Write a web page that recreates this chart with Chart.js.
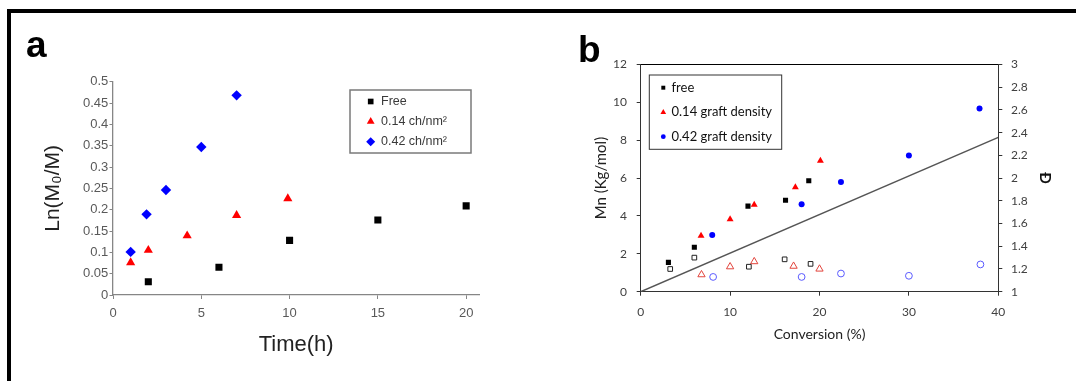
<!DOCTYPE html>
<html>
<head>
<meta charset="utf-8">
<script src="https://cdn.jsdelivr.net/npm/chart.js@4.4.1/dist/chart.umd.min.js"></script>
<style>
  body { margin: 0; width: 1076px; height: 381px; background: #fff; position: relative; overflow: hidden; }
  #frame { position: absolute; left: 7px; top: 9px; width: 1069px; height: 372px; border-top: 4px solid #000; border-left: 4px solid #000; box-sizing: border-box; }
  .panel { position: absolute; top: 0; height: 381px; }
  #wrapA { left: 0; width: 540px; }
  #wrapB { left: 540px; width: 536px; }
  .tag { position: absolute; font: bold 37px 'Liberation Sans', Arial, sans-serif; line-height: 37px; color: #000; }
</style>
</head>
<body>
<div id="frame"></div>
<div class="panel" id="wrapA"><canvas id="chartA"></canvas></div>
<div class="panel" id="wrapB"><canvas id="chartB"></canvas></div>
<div class="tag" style="left:26px; top:26px;">a</div>
<div class="tag" style="left:578px; top:31px;">b</div>
<script>
// ---- panel (a): ln(M0/M) vs time ----
const legendA = ['Free', '0.14 ch/nm²', '0.42 ch/nm²'];
const freeTime = [2, 6, 10, 15, 20];
const freeLn = [0.031, 0.065, 0.128, 0.176, 0.209];
const low14Time = [1, 2, 4.2, 7, 9.9];
const low14Ln = [0.076, 0.105, 0.139, 0.187, 0.226];
const high42Time = [1, 1.9, 3, 5, 7];
const high42Ln = [0.101, 0.189, 0.246, 0.347, 0.468];
const timeMax = 20.75;
const lnMax = 0.5;

// ---- panel (b): Mn and dispersity vs conversion ----
const legendB = ['free', '0.14 graft density', '0.42 graft density'];
const freeConv = [3.1, 6, 12, 16.2, 18.8];
const freeMn = [1.55, 2.35, 4.52, 4.83, 5.86];
const g14Conv = [6.75, 10, 12.7, 17.3, 20.1];
const g14Mn = [2.95, 3.83, 4.59, 5.52, 6.91];
const g42Conv = [8, 18, 22.4, 30, 37.9];
const g42Mn = [3.0, 4.62, 5.8, 7.2, 9.67];
const freeDispConv = [3.3, 6, 12.1, 16.1, 19];
const freeDisp = [1.2, 1.3, 1.22, 1.285, 1.245];
const g14DispConv = [6.8, 10, 12.7, 17.1, 20];
const g14Disp = [1.15, 1.22, 1.265, 1.225, 1.2];
const g42DispConv = [8.1, 18, 22.4, 30, 38];
const g42Disp = [1.13, 1.13, 1.16, 1.14, 1.24];
const theoryConv = [0, 40];
const theoryMn = [0, 8.15];

const pts = (xs, ys) => xs.map((x, i) => ({ x: x, y: ys[i] }));
const trimNum = v => String(+(+v).toFixed(2));

// draws a boxed legend inside the plot, like the Excel one
const boxLegend = {
  id: 'boxLegend',
  afterDraw(chart, args, o) {
    const ctx = chart.ctx;
    ctx.save();
    ctx.strokeStyle = o.borderColor;
    ctx.lineWidth = o.borderWidth;
    ctx.strokeRect(o.x, o.y, o.w, o.h);
    ctx.font = o.font;
    ctx.textBaseline = 'middle';
    o.labels.forEach((text, i) => {
      const ds = chart.data.datasets[i];
      const y = o.rowY[i];
      ctx.fillStyle = ds.backgroundColor;
      ctx.strokeStyle = ds.borderColor;
      ctx.lineWidth = 1;
      Chart.helpers.drawPoint(ctx, { pointStyle: ds.pointStyle, radius: o.markerRadius[i], rotation: 0, borderWidth: 0 }, o.markerX, y);
      ctx.fillStyle = o.color;
      ctx.fillText(text, o.textX, y);
    });
    ctx.restore();
  }
};

Chart.defaults.font.family = "'Liberation Sans', Arial, sans-serif";

const greyA = '#868686';
new Chart(document.getElementById('chartA'), {
  type: 'scatter',
  plugins: [boxLegend],
  data: {
    datasets: [
      { label: legendA[0], data: pts(freeTime, freeLn), pointStyle: 'rect', pointRadius: 5, backgroundColor: '#000', borderColor: '#000', borderWidth: 0 },
      { label: legendA[1], data: pts(low14Time, low14Ln), pointStyle: 'triangle', pointRadius: 5.3, backgroundColor: '#ff0000', borderColor: '#ff0000', borderWidth: 0 },
      { label: legendA[2], data: pts(high42Time, high42Ln), pointStyle: 'rectRot', pointRadius: 5.2, backgroundColor: '#0000ff', borderColor: '#0000ff', borderWidth: 0 }
    ]
  },
  options: {
    responsive: true,
    maintainAspectRatio: false,
    animation: false,
    layout: { padding: { left: 40.4, top: 81.7, right: 60.6, bottom: 22.8 } },
    plugins: {
      legend: { display: false },
      tooltip: { enabled: false },
      boxLegend: {
        labels: legendA, x: 350, y: 90, w: 121, h: 63, borderColor: '#7a7a7a', borderWidth: 1.5,
        rowY: [101.5, 121.5, 141.7], markerX: 370.7, textX: 381, markerRadius: [4, 4.5, 4.5],
        font: "12.5px 'Liberation Sans', Arial, sans-serif", color: '#3a3a3a'
      }
    },
    scales: {
      x: {
        type: 'linear', min: 0, max: timeMax,
        ticks: { stepSize: 5, includeBounds: false, padding: 6.5, color: '#595959', font: { size: 13 } },
        grid: { drawOnChartArea: false, drawTicks: true, tickLength: 4, color: greyA },
        border: { color: greyA, width: 1.3 },
        title: { display: true, text: 'Time(h)', color: '#222', font: { size: 22 }, padding: 0 },
        afterFit: s => { s.height = 63.2; }
      },
      y: {
        type: 'linear', min: 0, max: lnMax,
        ticks: { stepSize: 0.05, padding: 1.2, color: '#595959', font: { size: 13 }, callback: trimNum },
        grid: { drawOnChartArea: false, drawTicks: true, tickLength: 3.5, color: greyA },
        border: { color: greyA, width: 1.3 },
        title: { display: true, text: 'Ln(M₀/M)', color: '#222', font: { size: 21 }, padding: 0 },
        afterFit: s => { s.width = 72.6; }
      }
    }
  }
});

const fontB = "Lato, 'Liberation Sans', sans-serif";
new Chart(document.getElementById('chartB'), {
  type: 'scatter',
  plugins: [boxLegend],
  data: {
    datasets: [
      { label: legendB[0], data: pts(freeConv, freeMn), yAxisID: 'y', pointStyle: 'rect', pointRadius: 3.6, backgroundColor: '#000', borderColor: '#000', borderWidth: 0 },
      { label: legendB[1], data: pts(g14Conv, g14Mn), yAxisID: 'y', pointStyle: 'triangle', pointRadius: 4, backgroundColor: '#ff0000', borderColor: '#ff0000', borderWidth: 0 },
      { label: legendB[2], data: pts(g42Conv, g42Mn), yAxisID: 'y', pointStyle: 'circle', pointRadius: 3, backgroundColor: '#0000ff', borderColor: '#0000ff', borderWidth: 0 },
      { label: 'free Đ', data: pts(freeDispConv, freeDisp), yAxisID: 'y1', pointStyle: 'rect', pointRadius: 3.3, backgroundColor: 'rgba(255,255,255,0)', borderColor: '#222', borderWidth: 1 },
      { label: '0.14 Đ', data: pts(g14DispConv, g14Disp), yAxisID: 'y1', pointStyle: 'triangle', pointRadius: 4.2, backgroundColor: 'rgba(255,255,255,0)', borderColor: '#e2443c', borderWidth: 1 },
      { label: '0.42 Đ', data: pts(g42DispConv, g42Disp), yAxisID: 'y1', pointStyle: 'circle', pointRadius: 3.4, backgroundColor: 'rgba(255,255,255,0)', borderColor: '#5a5aff', borderWidth: 1 },
      { label: 'theory', data: pts(theoryConv, theoryMn), yAxisID: 'y', showLine: true, pointRadius: 0, borderColor: '#555', borderWidth: 1.5, backgroundColor: '#555' }
    ]
  },
  options: {
    responsive: true,
    maintainAspectRatio: false,
    animation: false,
    layout: { padding: { left: 51.9, top: 64.5, right: 22, bottom: 38.6 } },
    plugins: {
      legend: { display: false },
      tooltip: { enabled: false },
      boxLegend: {
        labels: legendB, x: 109.3, y: 75, w: 132.4, h: 74.3, borderColor: '#333', borderWidth: 1,
        rowY: [87.7, 112.3, 136.7], markerX: 123.3, textX: 131.5, markerRadius: [2.8, 3.3, 2.4],
        font: '13px ' + fontB, color: '#111'
      }
    },
    scales: {
      x: {
        type: 'linear', position: 'bottom', min: 0, max: 40,
        ticks: { stepSize: 10, padding: 8.8, color: '#404040', font: { family: fontB, size: 12 } },
        grid: { drawOnChartArea: false, drawTicks: true, tickLength: 4, color: '#333' },
        border: { color: '#333', width: 1 },
        title: { display: true, text: 'Conversion (%)', color: '#222', font: { family: fontB, size: 14 }, padding: 0 },
        afterFit: s => { s.height = 50.7; }
      },
      xTop: {
        type: 'linear', position: 'top', min: 0, max: 40,
        ticks: { display: false },
        grid: { drawOnChartArea: false, drawTicks: false },
        border: { color: '#000', width: 1 },
        afterFit: s => { s.height = 0; }
      },
      y: {
        type: 'linear', position: 'left', min: 0, max: 12,
        ticks: { stepSize: 2, padding: 9.7, color: '#404040', font: { family: fontB, size: 12 } },
        grid: { drawOnChartArea: false, drawTicks: true, tickLength: 4, color: '#333' },
        border: { color: '#333', width: 1 },
        title: { display: true, text: 'Mn (Kg/mol)', color: '#222', font: { family: fontB, size: 15 }, padding: 0 },
        afterFit: s => { s.width = 48.8; }
      },
      y1: {
        type: 'linear', position: 'right', min: 1, max: 3,
        ticks: { stepSize: 0.2, padding: 8.7, color: '#404040', font: { family: fontB, size: 12 }, callback: trimNum },
        grid: { drawOnChartArea: false, drawTicks: true, tickLength: 4, color: '#333' },
        border: { color: '#333', width: 1 },
        title: { display: true, text: 'Đ', color: '#111', font: { family: fontB, size: 15, weight: 'bold' }, padding: 0 },
        afterFit: s => { s.width = 55.7; }
      }
    }
  }
});
</script>
</body>
</html>
